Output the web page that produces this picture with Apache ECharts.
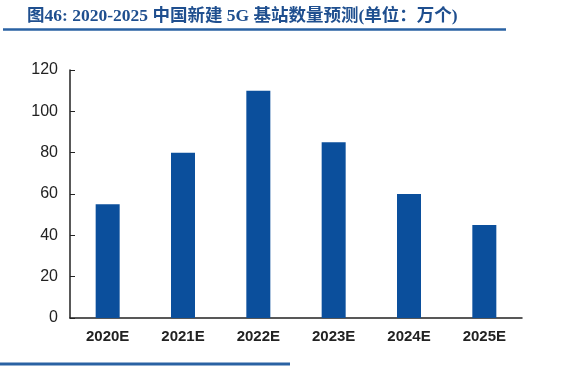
<!DOCTYPE html>
<html>
<head>
<meta charset="utf-8">
<script src="https://cdn.jsdelivr.net/npm/echarts@6/dist/echarts.min.js"></script>
<style>
html,body{margin:0;padding:0;background:#fff;}
#c{width:585px;height:366px;}
</style>
</head>
<body>
<div id="c"></div>
<script>
var categories = ['2020E', '2021E', '2022E', '2023E', '2024E', '2025E'];
var values = [55, 80, 110, 85, 60, 45];
var yTicks = [0, 20, 40, 60, 80, 100, 120];
var titleText = '图46: 2020-2025 中国新建 5G 基站数量预测(单位：万个)';

var chart = echarts.init(document.getElementById('c'), null, {renderer: 'canvas'});
chart.setOption({
  animation: false,
  backgroundColor: '#ffffff',
  title: {
    text: titleText,
    left: 22,
    top: 3,
    textStyle: {
      fontFamily: '"Liberation Serif", "Noto Sans CJK SC", serif',
      fontSize: 17.5,
      fontWeight: 'bold',
      color: '#1f4f8f'
    }
  },
  graphic: [
    {type: 'line', shape: {x1: 3, y1: 29.5, x2: 506, y2: 29.5}, style: {stroke: '#2a62a3', lineWidth: 2.5}},
    {type: 'line', shape: {x1: 0, y1: 364, x2: 290, y2: 364}, style: {stroke: '#2a62a3', lineWidth: 3}}
  ],
  grid: {left: 70, right: 63, top: 70, bottom: 48, containLabel: false},
  xAxis: {
    type: 'category',
    data: categories,
    boundaryGap: true,
    axisLine: {lineStyle: {color: '#222', width: 1.5}},
    axisTick: {inside: true, length: 5, lineStyle: {color: '#222'}, alignWithLabel: false},
    axisLabel: {color: '#222', fontSize: 15, fontWeight: 'bold', fontFamily: '"Liberation Sans", Arial, sans-serif', margin: 11}
  },
  yAxis: {
    type: 'value',
    min: yTicks[0],
    max: yTicks[yTicks.length - 1],
    interval: 20,
    axisLine: {show: true, lineStyle: {color: '#222', width: 1.5}},
    axisTick: {show: true, inside: true, length: 5, lineStyle: {color: '#222'}},
    splitLine: {show: false},
    axisLabel: {color: '#222', fontSize: 16, fontFamily: '"Liberation Sans", Arial, sans-serif', margin: 12}
  },
  series: [{
    type: 'bar',
    data: values,
    barWidth: 24,
    itemStyle: {color: '#0b4f9c'}
  }]
});
</script>
</body>
</html>
